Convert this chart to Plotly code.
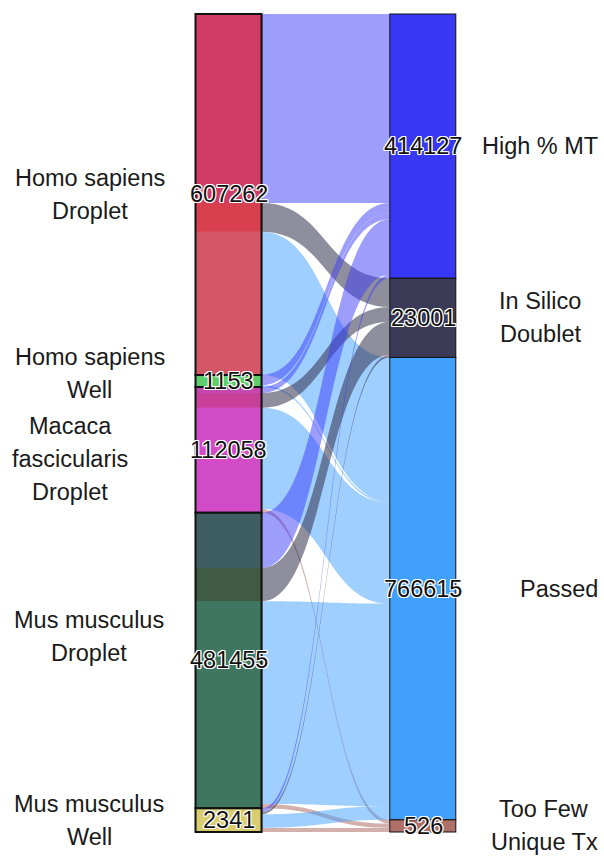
import numpy as np
import plotly.graph_objects as go

# ---- data -------------------------------------------------------------
sources = ["Homo sapiens Droplet", "Homo sapiens Well", "Macaca fascicularis Droplet",
           "Mus musculus Droplet", "Mus musculus Well"]
source_lines = [["Homo sapiens", "Droplet"], ["Homo sapiens", "Well"],
                ["Macaca", "fascicularis", "Droplet"], ["Mus musculus", "Droplet"],
                ["Mus musculus", "Well"]]
targets = ["High % MT", "In Silico Doublet", "Passed", "Too Few Unique Tx"]
target_lines = [["High % MT"], ["In Silico", "Doublet"], ["Passed"], ["Too Few", "Unique Tx"]]

# cells per (source, target): columns follow `targets`
hs_droplet = [379957, 8800, 218505, 0]
hs_well = [1120, 0, 33, 0]
macaca_droplet = [400, 2300, 109208, 150]
mm_droplet = [32500, 11841, 436918, 196]
mm_well = [150, 60, 1951, 180]

# ---- style ------------------------------------------------------------
source_colors = ["#d45768", "#5ccf6a", "#d14cc6", "#3f7660", "#d9cd70"]
# each source stratum is tinted by the flow that leaves that part of it
seg_colors = [
    ["#d03c66", "#d9404f", "#d45768", "#d45768"],
    ["#5ccf6a", "#5ccf6a", "#5ccf6a", "#5ccf6a"],
    ["#c448b0", "#c9409a", "#d14cc6", "#d14cc6"],
    ["#3e5e62", "#3f5b41", "#3f7660", "#3f7660"],
    ["#d9cd70", "#d9cd70", "#d9cd70", "#d9cd70"],
]
target_colors = ["#3838f4", "#3b3b58", "#40a0fa", "#b0706a"]
link_colors = ["rgba(60,60,250,0.5)", "rgba(50,50,75,0.55)",
               "rgba(64,160,255,0.5)", "rgba(176,112,104,0.55)"]

W, H = 604, 856
TOP, BOTTOM = 14, 832                 # vertical extent of the strata (px)
LEFT_CX, RIGHT_CX, THICK = 228.5, 423.0, 66
FONT = "Arial, Liberation Sans, sans-serif"
FONT_SIZE = 23.5
LINE_PITCH = 33
left_label_x = [89.5, 89.5, 70, 89, 89]
left_label_dy = [0, -7, 9, -24, 0]
right_label_x = [540, 540, 559, 544]
right_label_dy = [0, 0, 0, 0]

# ---- flows: band widths on a square-root scale ------------------------
flows = np.array([hs_droplet, hs_well, macaca_droplet, mm_droplet, mm_well], dtype=float)
widths = np.sqrt(flows)
total_w = widths.sum()
span = BOTTOM - TOP
row_w = widths.sum(axis=1)
col_w = widths.sum(axis=0)
n_s, n_t = len(sources), len(targets)


def py_to_paper(py):
    return 1 - py / H


def stack_centres(sizes):
    edges = np.concatenate([[0.0], np.cumsum(sizes)])
    return (edges[:-1] + edges[1:]) / 2 / total_w


node_color = source_colors + target_colors
node_x = [0.001] * n_s + [0.999] * n_t
node_y = list(stack_centres(row_w)) + list(stack_centres(col_w))
node_lw = [0] * n_s + [2] * n_t

link_s, link_t, link_v, link_c, link_cd = [], [], [], [], []
for i in range(n_s):
    for j in range(n_t):
        if flows[i, j] <= 0:
            continue
        link_s.append(i)
        link_t.append(n_s + j)
        link_v.append(widths[i, j])
        link_c.append(link_colors[j])
        link_cd.append(f"{sources[i]} → {targets[j]}: {int(flows[i, j])}")

fig = go.Figure(go.Sankey(
    arrangement="fixed",
    domain=dict(x=[LEFT_CX / W, RIGHT_CX / W], y=[py_to_paper(BOTTOM), py_to_paper(TOP)]),
    node=dict(pad=0, thickness=THICK, label=[""] * (n_s + n_t), color=node_color,
              x=node_x, y=node_y, line=dict(color="#111111", width=node_lw),
              hoverinfo="none"),
    link=dict(source=link_s, target=link_t, value=link_v, color=link_c,
              customdata=link_cd, hovertemplate="%{customdata}<extra></extra>"),
))

shadow = ("-1px -1px 0 #fff, 1px -1px 0 #fff, -1px 1px 0 #fff, 1px 1px 0 #fff, "
          "0 1px 0 #fff, 0 -1px 0 #fff, 1px 0 0 #fff, -1px 0 0 #fff")
annotations, shapes = [], []


def add_lines(lines, cx, cy):
    n = len(lines)
    for k, txt in enumerate(lines):
        annotations.append(dict(
            x=cx / W, y=py_to_paper(cy + (k - (n - 1) / 2) * LINE_PITCH),
            xref="paper", yref="paper", text=txt, showarrow=False,
            xanchor="center", yanchor="middle",
            font=dict(family=FONT, size=FONT_SIZE, color="#1a1a1a")))


def add_count(value, cx, cy):
    annotations.append(dict(
        x=cx / W, y=py_to_paper(cy), xref="paper", yref="paper",
        text=f"{int(value)}", showarrow=False, xanchor="center", yanchor="middle",
        font=dict(family=FONT, size=FONT_SIZE, color="#111111", shadow=shadow)))


def rect(y0, y1, **kw):
    return dict(type="rect", xref="paper", yref="paper", layer="above",
                x0=(LEFT_CX - THICK / 2) / W, x1=(LEFT_CX + THICK / 2) / W,
                y0=py_to_paper(y0), y1=py_to_paper(y1), **kw)


# tinted parts of each source stratum, then its outline
cum = 0.0
for i in range(n_s):
    y_start = TOP + cum / total_w * span
    for j in range(n_t):
        if flows[i, j] <= 0:
            continue
        y0 = TOP + cum / total_w * span
        cum += widths[i, j]
        y1 = TOP + cum / total_w * span
        shapes.append(rect(y0, y1, fillcolor=seg_colors[i][j], line=dict(width=0)))
    y_end = TOP + cum / total_w * span
    shapes.append(rect(y_start, y_end, line=dict(color="#111111", width=2)))
    add_count(flows[i].sum(), LEFT_CX, (y_start + y_end) / 2)
    add_lines(source_lines[i], left_label_x[i], (y_start + y_end) / 2 + left_label_dy[i])

cum = 0.0
for j in range(n_t):
    y0 = TOP + cum / total_w * span
    cum += col_w[j]
    y1 = TOP + cum / total_w * span
    add_count(flows[:, j].sum(), RIGHT_CX, (y0 + y1) / 2)
    add_lines(target_lines[j], right_label_x[j], (y0 + y1) / 2 + right_label_dy[j])

fig.update_layout(width=W, height=H, margin=dict(l=0, r=0, t=0, b=0),
                  paper_bgcolor="white", plot_bgcolor="white",
                  annotations=annotations, shapes=shapes, showlegend=False)
fig.write_html("out.html")
